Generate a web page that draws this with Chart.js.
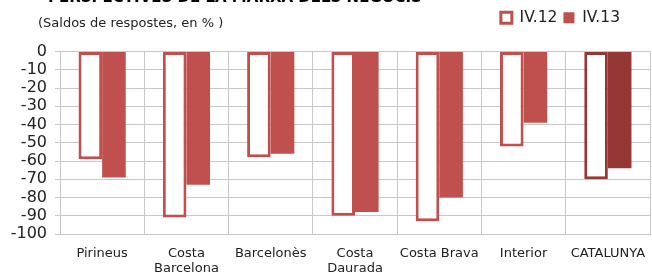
<!DOCTYPE html>
<html>
<head>
<meta charset="utf-8">
<script src="https://cdn.jsdelivr.net/npm/chart.js@4.4.1/dist/chart.umd.min.js"></script>
<style>
  html, body { margin: 0; padding: 0; background: #fff; }
  #wrap { width: 652px; height: 273px; }
</style>
</head>
<body>
<div id="wrap"><canvas id="chart" width="652" height="273"></canvas></div>
<script>
const categories = ['Pirineus', ['Costa', 'Barcelona'], 'Barcelonès', ['Costa', 'Daurada'], 'Costa Brava', 'Interior', 'CATALUNYA'];
const seriesNames = ['IV.12', 'IV.13'];
const valuesIV12 = [-59, -91, -58, -90, -93, -52, -70];
const valuesIV13 = [-69, -73, -56, -88, -80, -39, -64];
const yTicks = [0, -10, -20, -30, -40, -50, -60, -70, -80, -90, -100];

const red = '#C0504D';
const darkRed = '#953735';
// last category (CATALUNYA) is drawn darker
const barColors = categories.map((c, i) => i === categories.length - 1 ? darkRed : red);
const fontFam = '"DejaVu Sans", Verdana, sans-serif';

// titles drawn above the chart
const titlePlugin = {
  id: 'titles',
  afterInit(chart) {
    // leave extra room under the legend for the subtitle line
    const fit = chart.legend.fit;
    chart.legend.fit = function () {
      fit.call(this);
      this.height += 16;
    };
  },
  afterLayout(chart) {
    // legend sits a bit in from the right edge
    chart.legend.right -= 24;
  },
  afterDraw(chart) {
    const ctx = chart.ctx;
    ctx.save();
    ctx.fillStyle = '#000';
    ctx.textBaseline = 'alphabetic';
    ctx.font = 'bold 15px ' + fontFam;
    ctx.fillText('PERSPECTIVES DE LA MARXA DELS NEGOCIS', 48, 2);
    ctx.font = '13px ' + fontFam;
    ctx.fillStyle = '#222';
    ctx.fillText('(Saldos de respostes, en % )', 38, 27);
    ctx.restore();
  }
};

new Chart(document.getElementById('chart'), {
  type: 'bar',
  data: {
    labels: categories,
    datasets: [
      {
        label: seriesNames[0],
        data: valuesIV12,
        backgroundColor: '#fff',
        borderColor: barColors,
        borderWidth: 3,
        borderSkipped: false
      },
      {
        label: seriesNames[1],
        data: valuesIV13,
        backgroundColor: barColors,
        borderWidth: 0
      }
    ]
  },
  options: {
    responsive: false,
    animation: false,
    layout: { padding: { top: 4, right: 2, left: 0, bottom: 0 } },
    datasets: {
      bar: { categoryPercentage: 0.56, barPercentage: 1 }
    },
    plugins: {
      legend: {
        position: 'top',
        align: 'end',
        labels: {
          boxWidth: 11,
          boxHeight: 11,
          padding: 6,
          color: '#222',
          font: { family: fontFam, size: 15.5 }
        }
      },
      tooltip: { enabled: false }
    },
    scales: {
      x: {
        grid: { color: '#C8C8C8', lineWidth: 1, drawTicks: false },
        border: { color: '#C8C8C8' },
        ticks: {
          color: '#222',
          padding: 12,
          maxRotation: 0,
          autoSkip: false,
          font: { family: fontFam, size: 13, lineHeight: 1.15 }
        },
        afterFit(scale) {
          scale.height = 39;
          scale.paddingLeft = 0;
          scale.paddingRight = 0;
        }
      },
      y: {
        min: -100,
        max: 0,
        grid: { color: '#C8C8C8', lineWidth: 1, tickLength: 5 },
        border: { color: '#C8C8C8' },
        afterBuildTicks(scale) { scale.ticks = yTicks.map(v => ({ value: v })); },
        ticks: {
          color: '#222',
          padding: 8,
          autoSkip: false,
          font: { family: fontFam, size: 16 }
        },
        afterFit(scale) { scale.width = 60; }
      }
    }
  },
  plugins: [titlePlugin]
});
</script>
</body>
</html>
